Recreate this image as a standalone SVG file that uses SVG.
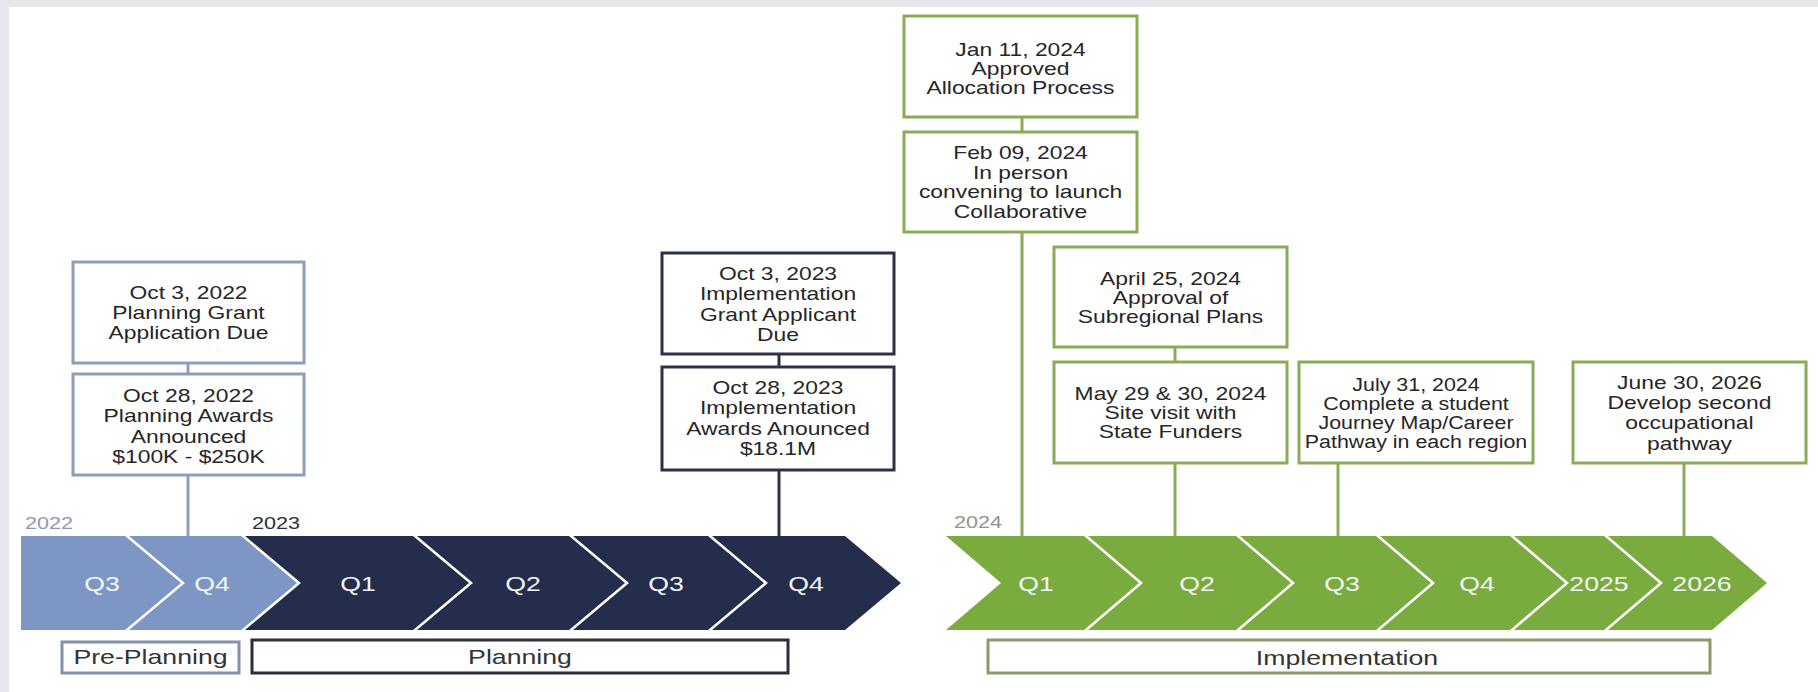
<svg xmlns="http://www.w3.org/2000/svg" width="1818" height="692" viewBox="0 0 1818 692">
<style>
text{font-family:"Liberation Sans",Arial,sans-serif}
.bt{font-size:18px;fill:#262626;text-anchor:middle}
.ql{font-size:21px;fill:#f4f6fa;text-anchor:middle}
.ph{font-size:21px;fill:#333;text-anchor:middle}
.yr{font-size:17px}
.bl{fill:#fff;stroke:#8d9ebd;stroke-width:3}
.bd{fill:#fff;stroke:#2c3245;stroke-width:3}
.bg{fill:#fff;stroke:#8aab58;stroke-width:3}
.cl{stroke:#8d9ebd;stroke-width:3}
.cd{stroke:#2c3245;stroke-width:3}
.cg{stroke:#8aab58;stroke-width:3}
.chl{fill:#7d96c3}
.chd{fill:#252d4c}
.chg{fill:#7aab3e}
</style>
<rect x="0" y="0" width="1818" height="692" fill="#e6e7ec"/>
<rect x="9" y="7" width="1809" height="685" fill="#fff"/>

<g id="connectors">
<line class="cl" x1="188" y1="363" x2="188" y2="374"/>
<line class="cl" x1="188" y1="475" x2="188" y2="536"/>
<line class="cd" x1="779" y1="354" x2="779" y2="367"/>
<line class="cd" x1="779" y1="470" x2="779" y2="536"/>
<line class="cg" x1="1022" y1="117" x2="1022" y2="132"/>
<line class="cg" x1="1022" y1="232" x2="1022" y2="536"/>
<line class="cg" x1="1175" y1="347" x2="1175" y2="362"/>
<line class="cg" x1="1175" y1="463" x2="1175" y2="536"/>
<line class="cg" x1="1338" y1="463" x2="1338" y2="536"/>
<line class="cg" x1="1684" y1="463" x2="1684" y2="536"/>
</g>

<g id="timeline">
<g id="chev-2022-q3"><polygon class="chl" points="21,536 125,536 181,583 125,630 21,630"/><text class="ql" transform="translate(102 0) scale(1.27 1)" x="0" y="591">Q3</text></g>
<g id="chev-2022-q4"><polygon class="chl" points="129,536 241,536 297,583 241,630 129,630 185,583"/><text class="ql" transform="translate(212 0) scale(1.27 1)" x="0" y="591">Q4</text></g>
<g id="chev-2023-q1"><polygon class="chd" points="245,536 413,536 469,583 413,630 245,630 301,583"/><text class="ql" transform="translate(358 0) scale(1.27 1)" x="0" y="591">Q1</text></g>
<g id="chev-2023-q2"><polygon class="chd" points="417,536 569,536 625,583 569,630 417,630 473,583"/><text class="ql" transform="translate(523 0) scale(1.27 1)" x="0" y="591">Q2</text></g>
<g id="chev-2023-q3"><polygon class="chd" points="573,536 708,536 764,583 708,630 573,630 629,583"/><text class="ql" transform="translate(666 0) scale(1.27 1)" x="0" y="591">Q3</text></g>
<g id="chev-2023-q4"><polygon class="chd" points="712,536 845,536 901,583 845,630 712,630 768,583"/><text class="ql" transform="translate(806 0) scale(1.27 1)" x="0" y="591">Q4</text></g>
<g id="chev-2024-q1"><polygon class="chg" points="946,536 1084,536 1139,583 1084,630 946,630 1001,583"/><text class="ql" transform="translate(1036 0) scale(1.27 1)" x="0" y="591">Q1</text></g>
<g id="chev-2024-q2"><polygon class="chg" points="1088,536 1236,536 1291,583 1236,630 1088,630 1143,583"/><text class="ql" transform="translate(1197 0) scale(1.27 1)" x="0" y="591">Q2</text></g>
<g id="chev-2024-q3"><polygon class="chg" points="1240,536 1376,536 1431,583 1376,630 1240,630 1295,583"/><text class="ql" transform="translate(1342 0) scale(1.27 1)" x="0" y="591">Q3</text></g>
<g id="chev-2024-q4"><polygon class="chg" points="1380,536 1510,536 1565,583 1510,630 1380,630 1435,583"/><text class="ql" transform="translate(1477 0) scale(1.27 1)" x="0" y="591">Q4</text></g>
<g id="chev-2025"><polygon class="chg" points="1514,536 1604,536 1659,583 1604,630 1514,630 1569,583"/><text class="ql" transform="translate(1599 0) scale(1.27 1)" x="0" y="591">2025</text></g>
<g id="chev-2026"><polygon class="chg" points="1608,536 1712,536 1767,583 1712,630 1608,630 1663,583"/><text class="ql" transform="translate(1702 0) scale(1.27 1)" x="0" y="591">2026</text></g>
<text class="yr" fill="#8d99b3" transform="translate(25 0) scale(1.27 1)" x="0" y="529">2022</text>
<text class="yr" fill="#2a2f45" transform="translate(252 0) scale(1.27 1)" x="0" y="529">2023</text>
<text class="yr" fill="#8b978a" transform="translate(954 0) scale(1.27 1)" x="0" y="528">2024</text>
</g>

<g id="phase-preplanning"><rect x="62" y="642" width="177" height="31" fill="#fff" stroke="#8391ab" stroke-width="3"/><text class="ph" transform="translate(150.5 0) scale(1.27 1)" x="0" y="664">Pre-Planning</text></g>
<g id="phase-planning"><rect x="252" y="640" width="536" height="33" fill="#fff" stroke="#2a2d3b" stroke-width="3"/><text class="ph" transform="translate(520 0) scale(1.27 1)" x="0" y="664">Planning</text></g>
<g id="phase-implementation"><rect x="988" y="640" width="722" height="33" fill="#fff" stroke="#8a9b6b" stroke-width="3"/><text class="ph" transform="translate(1347 0) scale(1.27 1)" x="0" y="665">Implementation</text></g>

<g id="n-oct3-2022"><rect class="bl" x="73" y="262" width="231" height="101"/>
<text class="bt" transform="translate(188.5 0) scale(1.27 1)"><tspan x="0" y="299">Oct 3, 2022</tspan><tspan x="0" y="319">Planning Grant</tspan><tspan x="0" y="339">Application Due</tspan></text></g>
<g id="n-oct28-2022"><rect class="bl" x="73" y="374" width="231" height="101"/>
<text class="bt" transform="translate(188.5 0) scale(1.27 1)"><tspan x="0" y="402">Oct 28, 2022</tspan><tspan x="0" y="422.5">Planning Awards</tspan><tspan x="0" y="443">Announced</tspan><tspan x="0" y="463.5">$100K - $250K</tspan></text></g>

<g id="n-oct3-2023"><rect class="bd" x="662" y="253" width="232" height="101"/>
<text class="bt" transform="translate(778 0) scale(1.27 1)"><tspan x="0" y="280">Oct 3, 2023</tspan><tspan x="0" y="300.5">Implementation</tspan><tspan x="0" y="321">Grant Applicant</tspan><tspan x="0" y="341.5">Due</tspan></text></g>
<g id="n-oct28-2023"><rect class="bd" x="662" y="367" width="232" height="103"/>
<text class="bt" transform="translate(778 0) scale(1.27 1)"><tspan x="0" y="394">Oct 28, 2023</tspan><tspan x="0" y="414.5">Implementation</tspan><tspan x="0" y="435">Awards Anounced</tspan><tspan x="0" y="455">$18.1M</tspan></text></g>

<g id="n-jan11-2024"><rect class="bg" x="904" y="16" width="233" height="101"/>
<text class="bt" transform="translate(1020.5 0) scale(1.27 1)"><tspan x="0" y="56">Jan 11, 2024</tspan><tspan x="0" y="75">Approved</tspan><tspan x="0" y="94">Allocation Process</tspan></text></g>
<g id="n-feb09-2024"><rect class="bg" x="904" y="132" width="233" height="100"/>
<text class="bt" transform="translate(1020.5 0) scale(1.27 1)"><tspan x="0" y="159.5">Feb 09, 2024</tspan><tspan x="0" y="179">In person</tspan><tspan x="0" y="198.5">convening to launch</tspan><tspan x="0" y="218">Collaborative</tspan></text></g>

<g id="n-apr25-2024"><rect class="bg" x="1054" y="247" width="233" height="100"/>
<text class="bt" transform="translate(1170.5 0) scale(1.27 1)"><tspan x="0" y="285.5">April 25, 2024</tspan><tspan x="0" y="304.5">Approval of</tspan><tspan x="0" y="323.5">Subregional Plans</tspan></text></g>
<g id="n-may29-2024"><rect class="bg" x="1054" y="362" width="233" height="101"/>
<text class="bt" transform="translate(1170.5 0) scale(1.27 1)"><tspan x="0" y="400.5">May 29 &amp; 30, 2024</tspan><tspan x="0" y="419.5">Site visit with</tspan><tspan x="0" y="438.5">State Funders</tspan></text></g>
<g id="n-jul31-2024"><rect class="bg" x="1299" y="362" width="234" height="101"/>
<text class="bt" transform="translate(1416 0) scale(1.19 1)"><tspan x="0" y="391.5">July 31, 2024</tspan><tspan x="0" y="410.5">Complete a student</tspan><tspan x="0" y="429.5">Journey Map/Career</tspan><tspan x="0" y="448.5">Pathway in each region</tspan></text></g>
<g id="n-jun30-2026"><rect class="bg" x="1573" y="362" width="233" height="101"/>
<text class="bt" transform="translate(1689.5 0) scale(1.27 1)"><tspan x="0" y="389.5">June 30, 2026</tspan><tspan x="0" y="409.5">Develop second</tspan><tspan x="0" y="429.5">occupational</tspan><tspan x="0" y="450">pathway</tspan></text></g>
</svg>
